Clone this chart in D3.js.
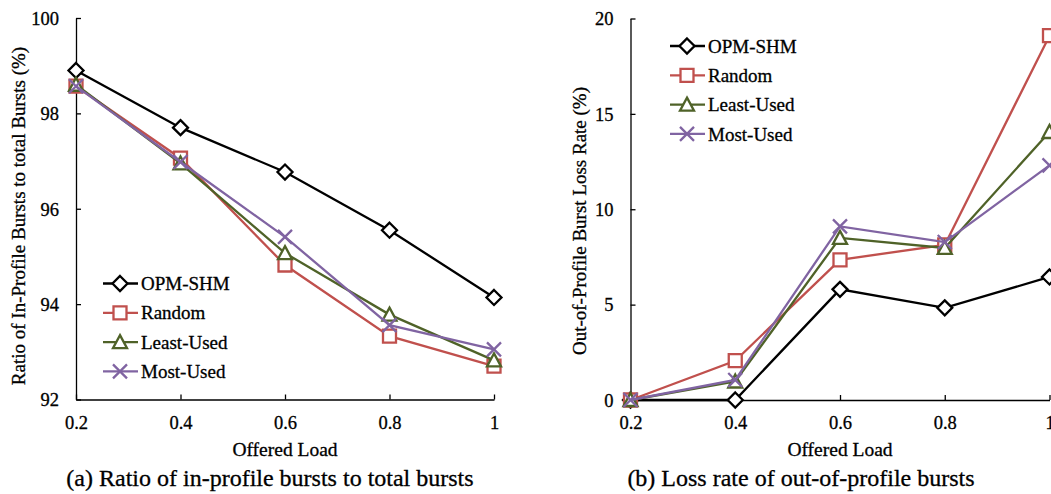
<!DOCTYPE html>
<html lang="en">
<head>
    <meta charset="utf-8">
    <title>Offered load charts</title>
    <style>
        body {
            margin: 0;
            background: #fff;
        }
    </style>
</head>
<body>
<div id="chart"></div>
<script src="https://cdn.jsdelivr.net/npm/d3@7"></script>
<script>
    // data
    const loads = [0.2, 0.4, 0.6, 0.8, 1];
    const seriesNames = ["OPM-SHM", "Random", "Least-Used", "Most-Used"];

    const ratioOPM = [98.9, 97.7, 96.77, 95.55, 94.14];
    const ratioRandom = [98.57, 97.06, 94.82, 93.33, 92.7];
    const ratioLeast = [98.6, 96.95, 95.07, 93.78, 92.82];
    const ratioMost = [98.57, 96.98, 95.41, 93.56, 93.05];

    const lossOPM = [0, 0, 5.8, 4.83, 6.45];
    const lossRandom = [0, 2.06, 7.35, 8.13, 19.1];
    const lossLeast = [0, 0.97, 8.5, 7.97, 14.05];
    const lossMost = [0, 1.05, 9.1, 8.28, 12.3];

    const ratioTicks = [92, 94, 96, 98, 100];
    const lossTicks = [0, 5, 10, 15, 20];

    const colors = ["#000000", "#c0504d", "#4f6228", "#8064a2"];
    const shapes = ["diamond", "square", "triangle", "cross"];

    const serif = "'Liberation Serif', 'Times New Roman', Times, serif";
    const width = 1051;
    const height = 494;

    const svg = d3.select("#chart").append("svg")
        .attr("width", width)
        .attr("height", height)
        .attr("font-family", serif);

    function markerPath(shape) {
        if (shape === "diamond") return "M0,-7.5L7.5,0L0,7.5L-7.5,0Z";
        if (shape === "square") return "M-6.5,-6.5H6.5V6.5H-6.5Z";
        if (shape === "triangle") return "M0,-7L7,6H-7Z";
        return "M-7,-7L7,7M-7,7L7,-7";
    }

    // reference text is a bit heavy, so a thin stroke thickens the glyphs
    function label(sel, size) {
        return sel.attr("font-family", serif).attr("font-size", size)
            .attr("fill", "#000").attr("stroke", "#000").attr("stroke-width", 0.3);
    }

    function drawPanel(opts) {
        const x = d3.scaleLinear().domain([0.2, 1]).range([opts.left, opts.right]);
        const y = d3.scaleLinear().domain(opts.domain).range([opts.bottom, opts.top]);
        const g = svg.append("g");

        // axes, ticks pointing inwards
        const xAxis = g.append("g")
            .attr("transform", "translate(0," + opts.bottom + ")")
            .call(d3.axisBottom(x).tickValues(loads).tickSize(-5).tickSizeOuter(0)
                .tickFormat(d3.format("")));
        xAxis.attr("font-family", serif);
        label(xAxis.selectAll("text").attr("dy", null).attr("y", 29), 18.5);

        const yAxis = g.append("g")
            .attr("transform", "translate(" + opts.left + ",0)")
            .call(d3.axisLeft(y).tickValues(opts.ticks).tickSize(-5).tickSizeOuter(0));
        yAxis.attr("font-family", serif);
        label(yAxis.selectAll("text").attr("x", -17).attr("dy", "0.34em"), 18.5);
        g.selectAll(".domain, .tick line").attr("stroke", "#000").attr("stroke-width", 1.3);

        label(g.append("text"), 19.5)
            .attr("x", (opts.left + opts.right) / 2)
            .attr("y", 456)
            .attr("text-anchor", "middle")
            .text("Offered Load");

        label(g.append("text"), 19)
            .attr("transform", "translate(" + opts.titleX + "," + opts.titleY + ") rotate(-90)")
            .attr("text-anchor", "middle")
            .text(opts.yTitle);

        label(g.append("text"), 24)
            .attr("x", opts.captionX)
            .attr("y", 486)
            .attr("text-anchor", "middle")
            .text(opts.caption);

        const line = d3.line()
            .x((d, i) => x(loads[i]))
            .y(d => y(d));

        opts.series.forEach((vals, s) => {
            const sg = g.append("g");
            sg.append("path")
                .attr("d", line(vals))
                .attr("fill", "none")
                .attr("stroke", colors[s])
                .attr("stroke-width", 2.3);
            sg.selectAll("path.m")
                .data(vals)
                .join("path")
                .attr("class", "m")
                .attr("d", markerPath(shapes[s]))
                .attr("transform", (d, i) => "translate(" + x(loads[i]) + "," + y(d) + ")")
                .attr("fill", shapes[s] === "cross" ? "none" : "#fff")
                .attr("stroke", colors[s])
                .attr("stroke-width", 2.3);
        });

        // legend
        const lg = g.append("g");
        seriesNames.forEach((name, s) => {
            const ly = opts.legendY + s * 29.3;
            lg.append("line")
                .attr("x1", opts.legendX).attr("x2", opts.legendX + 35)
                .attr("y1", ly).attr("y2", ly)
                .attr("stroke", colors[s]).attr("stroke-width", 2.3);
            lg.append("path")
                .attr("d", markerPath(shapes[s]))
                .attr("transform", "translate(" + (opts.legendX + 17) + "," + ly + ")")
                .attr("fill", shapes[s] === "cross" ? "none" : "#fff")
                .attr("stroke", colors[s]).attr("stroke-width", 2.3);
            label(lg.append("text"), 19)
                .attr("x", opts.legendX + 38)
                .attr("y", ly)
                .attr("dy", "0.35em")
                .text(name);
        });
    }

    drawPanel({
        left: 76, right: 494, top: 18, bottom: 399.5,
        domain: [92, 100], ticks: ratioTicks,
        series: [ratioOPM, ratioRandom, ratioLeast, ratioMost],
        yTitle: "Ratio of In-Profile Bursts to total Bursts (%)",
        titleX: 25, titleY: 216,
        caption: "(a) Ratio of in-profile bursts to total bursts", captionX: 270,
        legendX: 103, legendY: 283.5
    });

    drawPanel({
        left: 630.5, right: 1049.5, top: 18.5, bottom: 400,
        domain: [0, 20], ticks: lossTicks,
        series: [lossOPM, lossRandom, lossLeast, lossMost],
        yTitle: "Out-of-Profile Burst Loss Rate (%)",
        titleX: 586, titleY: 221,
        caption: "(b) Loss rate of out-of-profile bursts", captionX: 801,
        legendX: 670, legendY: 46
    });
</script>
</body>
</html>
